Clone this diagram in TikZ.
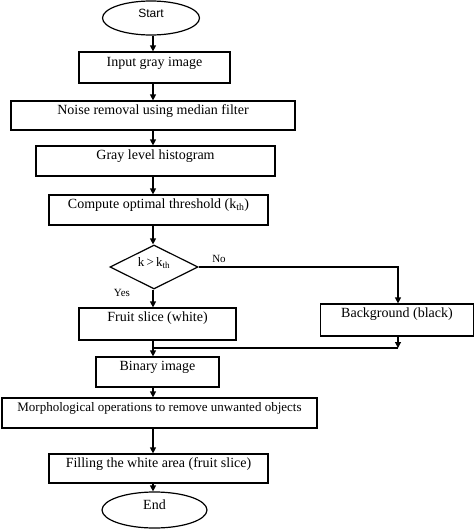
\documentclass[tikz,border=0pt]{standalone}
\usepackage{fontspec}
\setmainfont{Liberation Serif}
\newfontfamily\startfont{Liberation Sans}
\usetikzlibrary{shapes.geometric,arrows.meta}
\begin{document}
\begin{tikzpicture}[x=1pt,y=-1pt,
  every node/.style={font=\fontsize{14}{16}\selectfont},
  boxn/.style={draw, line width=1.2pt, inner sep=0pt, text height=9pt, text depth=#1},
  boxn/.default=12pt,
  ovaln/.style={draw, ellipse, line width=1.2pt, inner sep=0pt, text height=9pt, text depth=10pt},
  decn/.style={draw, diamond, line width=1.2pt, inner sep=0pt, aspect=2},
  lab/.style={font=\fontsize{11}{13}\selectfont, inner sep=0pt},
  arr/.style={line width=1.2pt, -{Triangle[length=6pt,width=6pt]}},
  ln/.style={line width=1.2pt}
]
\useasboundingbox (0,0) rectangle (474,530);
\coordinate (ax) at (153,0);
\node[ovaln, minimum width=97pt, minimum height=34pt, font=\startfont\fontsize{12}{14}\selectfont] (start) at (151,18) {Start};
\node[boxn, minimum width=151pt, minimum height=31pt] (input) at (154.5,67.5) {Input gray image};
\node[boxn, minimum width=284pt, minimum height=29pt] (noise) at (153,115.5) {Noise removal using median filter};
\node[boxn, minimum width=239pt, minimum height=30pt] (hist) at (155.5,161) {Gray level histogram};
\node[boxn, minimum width=219pt, minimum height=30pt] (comp) at (158.5,210) {Compute optimal threshold (k\textsubscript{th})};
\node[decn, minimum width=88pt, minimum height=44pt] (dec) at (154,267) {};
\node[inner sep=0pt, font=\fontsize{13}{15}\selectfont] (dect) at (154,263) {k\,>\,k\textsubscript{th}};
\node[boxn=15pt, minimum width=157pt, minimum height=32pt] (fruit) at (157.5,324) {Fruit slice (white)};
\node[boxn=15pt, minimum width=153pt, minimum height=32pt] (back) at (397,320) {Background (black)};
\node[boxn, minimum width=123pt, minimum height=30pt] (bin) at (157.5,372) {Binary image};
\node[boxn, minimum width=315pt, minimum height=30pt, font=\fontsize{13}{15}\selectfont] (morph) at (159.5,413) {Morphological operations to remove unwanted objects};
\node[boxn, minimum width=219pt, minimum height=29pt] (fill) at (158.5,468.5) {Filling the white area (fruit slice)};
\node[ovaln, minimum width=105pt, minimum height=36pt] (end) at (154.5,510) {End};
\node[lab] (no) at (219,259) {No};
\node[lab] (yes) at (122,293) {Yes};
\coordinate (merge) at (153,348);
\coordinate (bmerge) at (398,348);
\draw[arr] (start.south -| ax) -- (input.north -| ax);
\draw[arr] (input.south -| ax) -- (noise.north -| ax);
\draw[arr] (noise.south -| ax) -- (hist.north -| ax);
\draw[arr] (hist.south -| ax) -- (comp.north -| ax);
\draw[arr] (comp.south -| ax) -- (dec.north -| ax);
\draw[arr] (dec.south -| ax) -- (fruit.north -| ax);
\draw[arr] (dec.east) -| (back.north -| bmerge);
\draw[arr] (back.south -| bmerge) -- (bmerge);
\draw[ln] (bmerge) -- (merge);
\draw[arr] (fruit.south -| ax) -- (bin.north -| ax);
\draw[arr] (bin.south -| ax) -- (morph.north -| ax);
\draw[arr] (morph.south -| ax) -- (fill.north -| ax);
\draw[arr] (fill.south -| ax) -- (end.north -| ax);
\end{tikzpicture}
\end{document}
